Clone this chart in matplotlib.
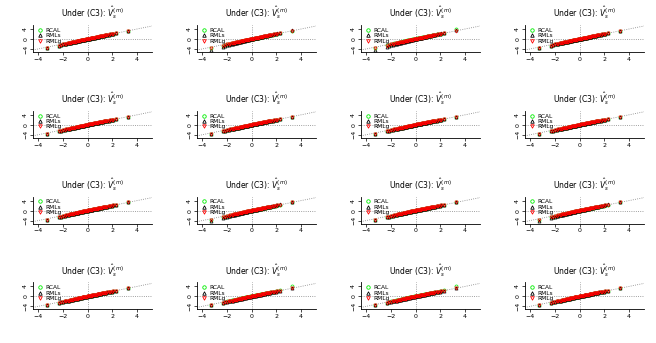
import matplotlib
matplotlib.use("Agg")
import matplotlib.pyplot as plt
from matplotlib.lines import Line2D

# theoretical normal quantiles (x axis)
q = [-3.29, -2.33, -2.17, -1.96, -1.81, -1.70, -1.60, -1.51, -1.43, -1.34,
     -1.26, -1.18, -1.10, -1.02, -0.95, -0.88, -0.81, -0.74, -0.67, -0.60,
     -0.53, -0.47, -0.40, -0.34, -0.27, -0.20, -0.14, -0.07, 0.00, 0.07,
     0.14, 0.20, 0.27, 0.34, 0.40, 0.47, 0.53, 0.60, 0.67, 0.74,
     0.81, 0.88, 0.95, 1.02, 1.10, 1.18, 1.26, 1.34, 1.43, 1.51,
     1.60, 1.70, 1.81, 1.96, 2.05, 2.33, 3.29]

# sample quantiles, typical shape
y_base = [-3.60, -2.65, -2.42, -2.18, -2.00, -1.87, -1.75, -1.65, -1.55, -1.45,
          -1.36, -1.27, -1.18, -1.09, -1.01, -0.93, -0.86, -0.78, -0.70, -0.63,
          -0.55, -0.49, -0.42, -0.35, -0.28, -0.21, -0.14, -0.07, 0.00, 0.07,
          0.14, 0.20, 0.27, 0.34, 0.40, 0.47, 0.53, 0.60, 0.67, 0.74,
          0.81, 0.88, 0.95, 1.02, 1.10, 1.18, 1.26, 1.34, 1.43, 1.51,
          1.60, 1.70, 1.81, 1.96, 2.05, 2.35, 3.30]

# steeper spread (black band visible)
y_steep = [-4.25, -3.00, -2.75, -2.45, -2.24, -2.08, -1.95, -1.83, -1.72, -1.60,
           -1.50, -1.40, -1.30, -1.20, -1.11, -1.02, -0.94, -0.85, -0.77, -0.69,
           -0.61, -0.54, -0.46, -0.39, -0.31, -0.23, -0.16, -0.08, 0.00, 0.08,
           0.15, 0.22, 0.29, 0.37, 0.43, 0.51, 0.57, 0.65, 0.72, 0.80,
           0.87, 0.95, 1.03, 1.10, 1.19, 1.28, 1.36, 1.45, 1.55, 1.63,
           1.73, 1.84, 1.96, 2.12, 2.22, 2.55, 3.60]

# slightly raised (green band visible)
y_high = [-3.45, -2.45, -2.25, -2.02, -1.85, -1.73, -1.62, -1.52, -1.43, -1.33,
          -1.24, -1.15, -1.06, -0.97, -0.89, -0.81, -0.74, -0.66, -0.58, -0.51,
          -0.43, -0.37, -0.30, -0.23, -0.16, -0.09, -0.02, 0.05, 0.12, 0.19,
          0.26, 0.32, 0.39, 0.46, 0.52, 0.59, 0.65, 0.72, 0.79, 0.86,
          0.93, 1.00, 1.07, 1.14, 1.22, 1.30, 1.38, 1.46, 1.55, 1.63,
          1.72, 1.82, 1.94, 2.10, 2.20, 2.50, 4.10]

series = {"base": y_base, "steep": y_steep, "high": y_high}

# which sample curve each method uses in each panel (row by row)
rcal_kind = ["base", "base", "high", "base",
             "base", "base", "base", "base",
             "base", "base", "base", "base",
             "base", "high", "high", "base"]
rmls_kind = ["base", "steep", "steep", "base",
             "base", "base", "base", "base",
             "base", "steep", "base", "steep",
             "base", "base", "base", "base"]
rmlg_kind = ["base"] * 16

titles = [r"Under (C3): $\hat{V}^{(m)}_{s}$"] * 16
labels = ["RCAL", "RMLs", "RMLg"]

W, H = 656, 343
fig = plt.figure(figsize=(W / 100, H / 100), dpi=100)

for i in range(16):
    r, c = divmod(i, 4)
    left = 33 + 164 * c
    top = 25 + 85.8 * r
    ax = fig.add_axes([left / W, 1 - (top + 27) / H, 119 / W, 27 / H])
    ax.set_xlim(-4.4, 5.2)
    ax.set_ylim(-5.2, 5.6)
    ax.plot([-6, 6], [-6, 6], ls=":", color="gray", lw=0.6)
    ax.axhline(0, ls=":", color="gray", lw=0.6)
    ax.axvline(0, ls=":", color="gray", lw=0.6)
    ax.plot(q, series[rcal_kind[i]], ls="none", marker="o", mfc="none",
            mec="#00ee00", ms=2.2, mew=0.5)
    ax.plot(q, series[rmls_kind[i]], ls="none", marker="^", mfc="none",
            mec="black", ms=2.2, mew=0.5)
    ax.plot(q, series[rmlg_kind[i]], ls="none", marker="v", mfc="none",
            mec="red", ms=2.2, mew=0.5)
    ax.set_xticks([-4, -2, 0, 2, 4])
    ax.set_yticks([-4, 0, 4])
    ax.tick_params(labelsize=4.5, length=2, width=0.5, pad=1.5)
    for lab in ax.get_yticklabels():
        lab.set_rotation(90)
        lab.set_va("center")
    for s in ["top", "right"]:
        ax.spines[s].set_visible(False)
    for s in ["left", "bottom"]:
        ax.spines[s].set_linewidth(0.6)
    ax.set_title(titles[i], fontsize=5.5, pad=6)
    handles = [
        Line2D([], [], ls="none", marker="o", mfc="none", mec="#00ee00", ms=2.5, mew=0.6),
        Line2D([], [], ls="none", marker="^", mfc="none", mec="black", ms=2.5, mew=0.6),
        Line2D([], [], ls="none", marker="v", mfc="none", mec="red", ms=2.5, mew=0.6),
    ]
    ax.legend(handles, labels, loc="upper left", bbox_to_anchor=(0.0, 1.05),
              frameon=False, fontsize=4.2, handlelength=1.0, handletextpad=0.4,
              labelspacing=0.05, borderpad=0.2)

fig.savefig("out.png", dpi=100)
